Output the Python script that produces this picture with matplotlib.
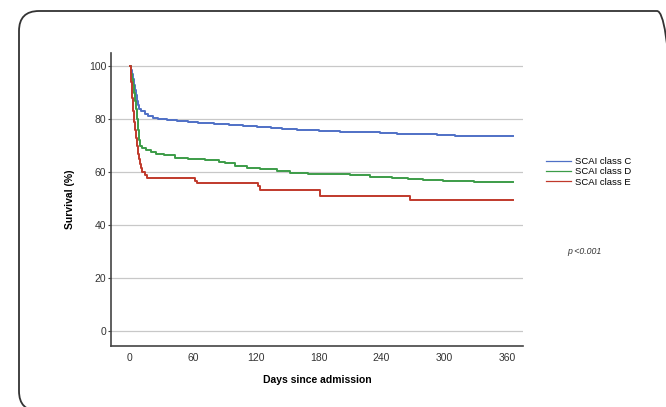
import matplotlib.pyplot as plt
from matplotlib.patches import FancyBboxPatch
from matplotlib.transforms import IdentityTransform

plt.rcParams['font.family'] = ['Liberation Sans', 'DejaVu Sans']

# Kaplan-Meier estimates by SCAI class (days, survival %)
days_c = [0, 1, 2, 3, 4, 5, 6, 7, 8, 9, 11, 14, 17, 22, 27, 35, 45, 55, 65, 80, 95, 108,
          121, 135, 145, 159, 180, 200, 220, 239, 255, 270, 293, 310, 334, 365]
surv_c = [100, 98.5, 97, 95, 93, 91, 89, 87, 85.5, 84, 83, 82, 81.2, 80.5, 80, 79.6, 79.2, 78.9, 78.6, 78.2, 77.6, 77.3,
          77, 76.6, 76.2, 75.8, 75.5, 75.2, 75, 74.6, 74.4, 74.3, 73.9, 73.8, 73.5, 73.5]

days_d = [0, 1, 2, 3, 4, 5, 6, 7, 8, 9, 10, 12, 15, 20, 25, 33, 43, 55, 72, 85, 91, 100,
          112, 124, 140, 153, 170, 184, 210, 229, 250, 265, 280, 299, 328, 365]
surv_d = [100, 97, 95, 93, 90, 87, 84, 80, 76, 72, 70, 69, 68.3, 67.6, 67, 66.5, 65.3, 64.9, 64.5, 63.8, 63.4, 62.2,
          61.6, 61, 60.3, 59.6, 59.3, 59.2, 58.8, 58.3, 57.9, 57.4, 57, 56.5, 56.1, 56.1]

days_e = [0, 1, 2, 3, 4, 5, 6, 7, 8, 9, 10, 11, 12, 14, 16, 59, 62, 64, 121, 122, 124,
          179, 181, 265, 267, 365]
surv_e = [100, 94, 88, 83, 79, 76, 73, 70, 67, 65, 63, 61.5, 60.2, 58.8, 57.8, 57.6, 56.8, 56, 56, 54.8, 53.4,
          53.4, 50.8, 50.8, 49.6, 49.6]

labels = ["SCAI class C", "SCAI class D", "SCAI class E"]
colors = ["#4f70c6", "#3c9c48", "#c0392b"]

fig = plt.figure(figsize=(6.66, 4.07), dpi=100)
ax = fig.add_axes([0.1667, 0.15, 0.6186, 0.72])

for d, s, lab, col in zip([days_c, days_d, days_e], [surv_c, surv_d, surv_e], labels, colors):
    ax.step(d, s, where='post', color=col, lw=1.4, label=lab)

ax.set_xlim(-18, 375)
ax.set_ylim(-5.7, 105)
ax.set_xticks([0, 60, 120, 180, 240, 300, 360])
ax.set_yticks([0, 20, 40, 60, 80, 100])
ax.grid(axis='y', color='#c8c8c8', lw=0.9)
ax.set_axisbelow(True)
for sp in ['top', 'right']:
    ax.spines[sp].set_visible(False)
for sp in ['left', 'bottom']:
    ax.spines[sp].set_color('#444444')
    ax.spines[sp].set_linewidth(1.2)
ax.tick_params(axis='x', length=0, pad=5, labelsize=7.5, labelcolor='#333333')
ax.tick_params(axis='y', length=2, width=0.8, pad=1.5, color='#444444', labelsize=7.5, labelcolor='#333333')

ax.set_xlabel("Days since admission", fontsize=7.5, fontweight='bold', labelpad=9)
ax.set_ylabel("Survival (%)", fontsize=7.5, fontweight='bold', labelpad=10)

ax.legend(loc='center left', bbox_to_anchor=(0.812, 0.578), bbox_transform=fig.transFigure,
          frameon=False, fontsize=6.8, handlelength=2.7, handletextpad=0.4,
          labelspacing=0.15, borderpad=0)
for line in ax.get_legend().get_lines():
    line.set_linewidth(0.9)

fig.text(0.851, 0.381, "p <0.001", fontsize=6.3, style='italic', color='#333333', ha='left', va='center')

# rounded panel border
frame = FancyBboxPatch((19, -4), 658, 400, boxstyle="round,pad=0,rounding_size=20",
                       transform=IdentityTransform(), fill=False, ec='#333333', lw=1.3)
fig.patches.append(frame)

fig.savefig("out.png", dpi=100)
